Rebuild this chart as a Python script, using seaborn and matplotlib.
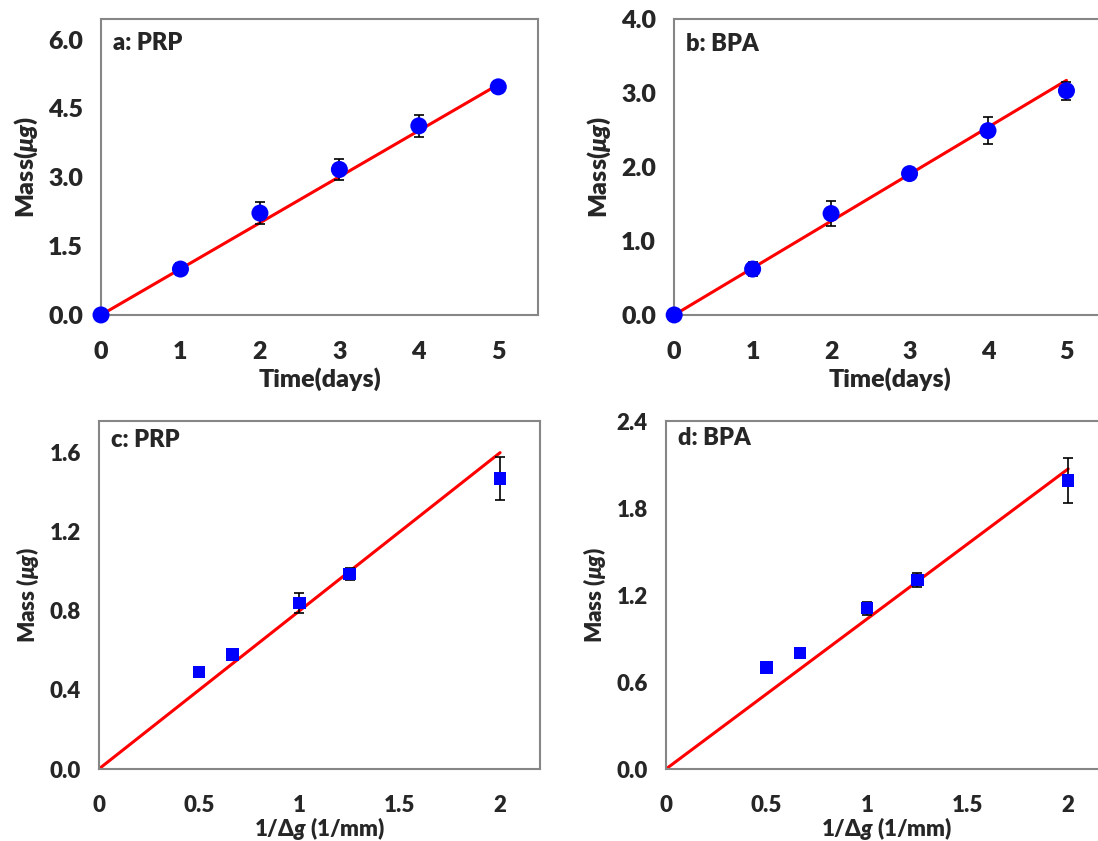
import numpy as np
import pandas as pd
import seaborn as sns
import matplotlib.pyplot as plt

# ---- data ----
days = [0, 1, 2, 3, 4, 5]
prp_mass_t = [0.0, 1.0, 2.22, 3.17, 4.12, 4.97]
prp_err_t = [0.0, 0.14, 0.24, 0.23, 0.24, 0.03]
prp_fit_t = [0.0, 5.02]

bpa_mass_t = [0.0, 0.62, 1.37, 1.91, 2.49, 3.03]
bpa_err_t = [0.0, 0.09, 0.17, 0.03, 0.18, 0.12]
bpa_fit_t = [0.0, 3.17]

inv_gap = [0.5, 0.667, 1.0, 1.25, 2.0]
prp_mass_g = [0.49, 0.58, 0.84, 0.985, 1.47]
prp_err_g = [0.01, 0.02, 0.05, 0.03, 0.11]
prp_fit_g = [0.0, 1.60]

bpa_mass_g = [0.70, 0.80, 1.11, 1.305, 1.99]
bpa_err_g = [0.01, 0.03, 0.045, 0.05, 0.155]
bpa_fit_g = [0.0, 2.07]

fit_x_t = [0, 5]
fit_x_g = [0, 2]

sns.set_style("white")
plt.rcParams['font.family'] = ['Lato', 'DejaVu Sans']
plt.rcParams['font.weight'] = 'heavy'
plt.rcParams['mathtext.fontset'] = 'custom'
plt.rcParams['mathtext.rm'] = 'Lato:heavy'
plt.rcParams['mathtext.it'] = 'Lato:italic:heavy'
plt.rcParams['mathtext.bf'] = 'Lato:heavy'

fig = plt.figure(figsize=(10.98, 8.41), dpi=100)
ax_a = fig.add_axes([0.092, 0.6255, 0.398, 0.352])
ax_b = fig.add_axes([0.614, 0.6255, 0.393, 0.352])
ax_c = fig.add_axes([0.090, 0.0856, 0.402, 0.4138])
ax_d = fig.add_axes([0.6065, 0.0856, 0.403, 0.4138])

grey = '#868686'


def panel(ax, x, y, err, fx, fy, marker, ms, label, fs):
    df = pd.DataFrame({'x': x, 'y': y})
    fit = pd.DataFrame({'x': fx, 'y': fy})
    sns.lineplot(data=fit, x='x', y='y', ax=ax, color='#ff0000', lw=2.2, zorder=2)
    ax.errorbar(x, y, yerr=err, fmt='none', ecolor='black', elinewidth=1.2,
                capsize=3.5, capthick=1.2, zorder=3)
    sns.scatterplot(data=df, x='x', y='y', ax=ax, color='#0000ff', marker=marker,
                    s=ms, edgecolor='none', zorder=4, clip_on=False)
    for sp in ax.spines.values():
        sp.set_color(grey)
        sp.set_linewidth(1.5)
    ax.tick_params(direction='out', length=7, width=1.2, color=grey,
                   labelsize=fs, pad=6)
    ax.tick_params(axis='x', pad=12)
    ax.text(0.028, label[1], label[0], transform=ax.transAxes, fontsize=17,
            fontweight='heavy', va='center')


panel(ax_a, days, prp_mass_t, prp_err_t, fit_x_t, prp_fit_t, 'o', 150, ('a: PRP', 0.92), 18)
panel(ax_b, days, bpa_mass_t, bpa_err_t, fit_x_t, bpa_fit_t, 'o', 150, ('b: BPA', 0.915), 18)
panel(ax_c, inv_gap, prp_mass_g, prp_err_g, fit_x_g, prp_fit_g, 's', 80, ('c: PRP', 0.945), 16)
panel(ax_d, inv_gap, bpa_mass_g, bpa_err_g, fit_x_g, bpa_fit_g, 's', 80, ('d: BPA', 0.95), 16)

for ax in (ax_a, ax_b):
    ax.set_xlim(0, 5.5)
    ax.set_xticks(days)
    ax.set_xticklabels([str(d) for d in days])
    ax.set_xlabel('Time(days)', fontsize=18, fontweight='heavy', labelpad=3)
    ax.set_ylabel(r'Mass($\mu g$)', fontsize=18, fontweight='heavy', labelpad=6)

ax_a.set_ylim(0, 6.45)
ax_a.set_yticks([0.0, 1.5, 3.0, 4.5, 6.0])
ax_a.set_yticklabels(['0.0', '1.5', '3.0', '4.5', '6.0'])
ax_b.set_ylim(0, 4.0)
ax_b.set_yticks([0.0, 1.0, 2.0, 3.0, 4.0])
ax_b.set_yticklabels(['0.0', '1.0', '2.0', '3.0', '4.0'])

for ax in (ax_c, ax_d):
    ax.set_xlim(0, 2.2)
    ax.set_xticks([0, 0.5, 1, 1.5, 2])
    ax.set_xticklabels(['0', '0.5', '1', '1.5', '2'])
    ax.set_xlabel(r'1/$\Delta$$g$ (1/mm)', fontsize=16, fontweight='heavy', labelpad=-1)
    ax.set_ylabel(r'Mass ($\mu g$)', fontsize=16, fontweight='heavy', labelpad=6)

ax_c.set_ylim(0, 1.76)
ax_c.set_yticks([0.0, 0.4, 0.8, 1.2, 1.6])
ax_c.set_yticklabels(['0.0', '0.4', '0.8', '1.2', '1.6'])
ax_d.set_ylim(0, 2.4)
ax_d.set_yticks([0.0, 0.6, 1.2, 1.8, 2.4])
ax_d.set_yticklabels(['0.0', '0.6', '1.2', '1.8', '2.4'])

fig.savefig('out.png', dpi=100)
